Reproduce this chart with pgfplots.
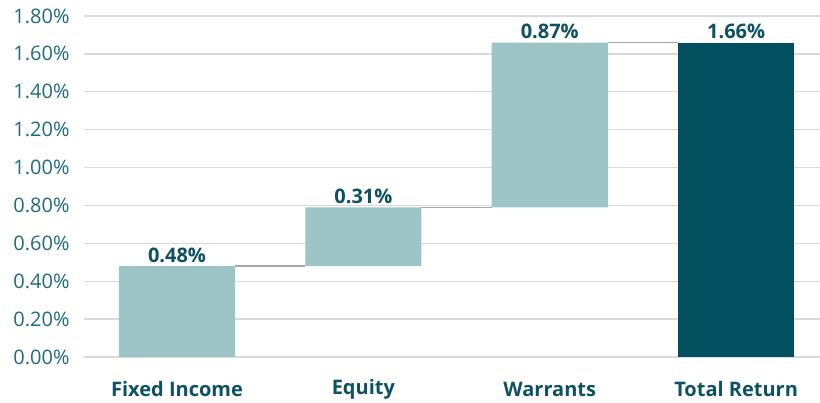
\documentclass[border=0pt]{standalone}
\usepackage{pgfplots}
\pgfplotsset{compat=1.18}
\usepackage{fontspec}
\setmainfont{Open Sans}
\definecolor{lightbar}{HTML}{9DC5C5}
\definecolor{darkbar}{HTML}{02505F}
\definecolor{ticktxt}{HTML}{1F6B7B}
\definecolor{lbltxt}{HTML}{0D5163}
\definecolor{gridc}{HTML}{D9D9D9}
\definecolor{conn}{HTML}{A6A6A6}
\begin{document}
\begin{tikzpicture}
\useasboundingbox (-84bp,-46bp) rectangle (736bp,357bp);
\pgfplotsset{common/.style={
  scale only axis, width=736bp, height=341bp,
  xmin=-0.499, xmax=3.45, ymin=0, ymax=1.8,
}}
\begin{axis}[common,
  ybar stacked, bar width=0.623,
  axis line style={draw=none},
  tick style={draw=none},
  ymajorgrids, grid style={gridc, line width=1.4bp},
  ytick={0,0.2,...,1.8},
  xtick={0,1,2,3},
  xticklabels={Fixed Income,Equity,Warrants,Total Return},
  /pgf/number format/assume math mode=true,
  yticklabel={\pgfmathprintnumber[fixed,fixed zerofill,precision=2]{\tick}\%},
  yticklabel style={font=\fontsize{20bp}{22bp}\selectfont, text=ticktxt, anchor=east, xshift=-11bp},
  xticklabel style={font=\fontsize{20bp}{22bp}\selectfont\bfseries, text=lbltxt, anchor=center, yshift=-32bp},
  major tick length=0pt,
]
\addplot[draw=none, fill=none] coordinates {(0,0) (1,0.48) (2,0.79) (3,0)};
\addplot[draw=none, fill=lightbar] coordinates {(0,0.48) (1,0.31) (2,0.87) (3,0)};
\addplot[draw=none, fill=darkbar] coordinates {(0,0) (1,0) (2,0) (3,1.66)};
\end{axis}
\begin{axis}[common, hide axis]
\addplot[conn, line width=1.5bp, no marks] coordinates {(0.3115,0.48) (0.6885,0.48)};
\addplot[conn, line width=1.5bp, no marks] coordinates {(1.3115,0.79) (1.6885,0.79)};
\addplot[conn, line width=1.5bp, no marks] coordinates {(2.3115,1.66) (2.6885,1.66)};
\addplot[draw=none, no marks, nodes near coords, point meta=explicit symbolic,
  every node near coord/.append style={font=\fontsize{20bp}{22bp}\selectfont\bfseries, text=lbltxt, anchor=south, inner sep=3.5bp}]
  coordinates {(0,0.48)[0.48\%] (1,0.79)[0.31\%] (2,1.66)[0.87\%] (3,1.66)[1.66\%]};
\end{axis}
\end{tikzpicture}
\end{document}
